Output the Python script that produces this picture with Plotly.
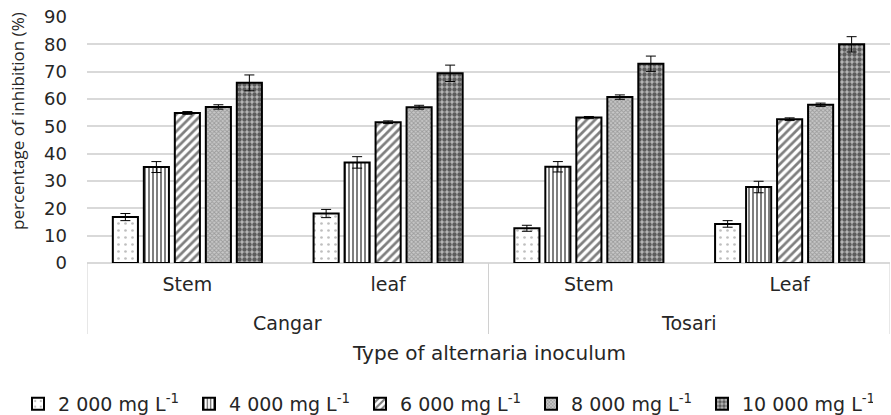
import plotly.graph_objects as go

sites = ["Cangar", "Cangar", "Tosari", "Tosari"]
parts = ["Stem", "leaf", "Stem", "Leaf"]
cat_keys = ["Cangar Stem", "Cangar leaf", "Tosari Stem", "Tosari Leaf"]
site_labels = ["Cangar", "Tosari"]

series_names = ["2 000 mg L<sup>-1</sup>", "4 000 mg L<sup>-1</sup>", "6 000 mg L<sup>-1</sup>",
                "8 000 mg L<sup>-1</sup>", "10 000 mg L<sup>-1</sup>"]

v2000 = [16.8, 18.1, 12.7, 14.3]
v4000 = [35.1, 36.8, 35.2, 27.8]
v6000 = [54.9, 51.5, 53.2, 52.6]
v8000 = [57.1, 57.0, 60.7, 57.9]
v10000 = [65.9, 69.4, 72.9, 80.0]

e2000 = [1.3, 1.5, 1.1, 1.2]
e4000 = [2.0, 2.1, 1.9, 2.1]
e6000 = [0.5, 0.5, 0.4, 0.5]
e8000 = [0.8, 0.7, 0.8, 0.6]
e10000 = [2.9, 3.0, 2.8, 2.8]

values = [v2000, v4000, v6000, v8000, v10000]
errors = [e2000, e4000, e6000, e8000, e10000]

patterns = [
    dict(shape=".", fgcolor="#808080", bgcolor="white", size=7, solidity=0.12),
    dict(shape="|", fgcolor="black", bgcolor="white", size=4, solidity=0.5),
    dict(shape="/", fgcolor="black", bgcolor="white", size=6, solidity=0.45),
    dict(shape="x", fgcolor="#6e6e6e", bgcolor="#c8c8c8", size=3, solidity=0.5),
    dict(shape=".", fgcolor="black", bgcolor="#b8b8b8", size=5, solidity=0.6),
]

txt = "#262626"
font_main = "DejaVu Sans"

fig = go.Figure()
for name, vals, errs, pat in zip(series_names, values, errors, patterns):
    fig.add_trace(go.Bar(
        x=cat_keys, y=vals, name=name,
        marker=dict(color="white", line=dict(color="black", width=2), pattern=pat),
        error_y=dict(type="data", array=errs, color="black", thickness=1, width=5),
    ))

# plot area: x 87..890, y=17 (90) to y=263 (0)
H_PLOT = 246.0
W_PLOT = 803.0
def py(pix):
    return (263.0 - pix) / H_PLOT
def px(pix):
    return (pix - 87.0) / W_PLOT

annotations = []
for i, lab in enumerate(site_labels):
    annotations.append(dict(x=2 * i + 0.5, xref="x", y=py(323), yref="paper", text=lab,
                            showarrow=False, font=dict(family=font_main, size=19, color=txt),
                            xanchor="center", yanchor="middle"))
annotations.append(dict(x=0.5, xref="paper", y=py(353), yref="paper", text="Type of alternaria inoculum",
                        showarrow=False, font=dict(family=font_main, size=20, color=txt),
                        xanchor="center", yanchor="middle"))
annotations.append(dict(x=px(18), xref="paper", y=py(121), yref="paper", text="percentage of inhibition (%)",
                        textangle=-90, showarrow=False,
                        font=dict(family="Open Sans", size=17, color=txt),
                        xanchor="center", yanchor="middle"))

shapes = []
for xb in [-0.5, 1.5, 3.5]:
    shapes.append(dict(type="line", xref="x", yref="paper", x0=xb, x1=xb, y0=0, y1=py(334),
                       line=dict(color="#d0d0d0", width=1)))

fig.update_layout(
    width=891, height=415,
    margin=dict(l=87, r=1, t=17, b=152, autoexpand=False),
    plot_bgcolor="white", paper_bgcolor="white",
    barmode="group", bargap=0.228, bargroupgap=0.19,
    font=dict(family=font_main, size=17, color=txt),
    showlegend=True,
    legend=dict(orientation="h", xref="paper", x=px(18), xanchor="left",
                yref="paper", y=py(404), yanchor="middle",
                font=dict(size=19, family=font_main, color=txt),
                entrywidthmode="pixels", entrywidth=126, itemwidth=30, tracegroupgap=0),
    annotations=annotations,
    shapes=shapes,
    xaxis=dict(
        type="category", range=[-0.5, 3.5], automargin=False,
        tickvals=cat_keys, ticktext=parts, ticks="", ticklabelstandoff=8,
        tickfont=dict(size=19, family=font_main, color=txt),
        showline=False, showgrid=False,
    ),
    yaxis=dict(
        range=[0, 90], dtick=10, showgrid=True, gridcolor="#d9d9d9", gridwidth=1.5,
        zeroline=True, zerolinecolor="#d9d9d9", zerolinewidth=1.5, automargin=False,
        tickfont=dict(size=18, family=font_main, color=txt), ticklabelstandoff=19,
    ),
)

fig.write_html("out.html", post_script="document.body.style.margin='0px';",
               config={"displayModeBar": False})
